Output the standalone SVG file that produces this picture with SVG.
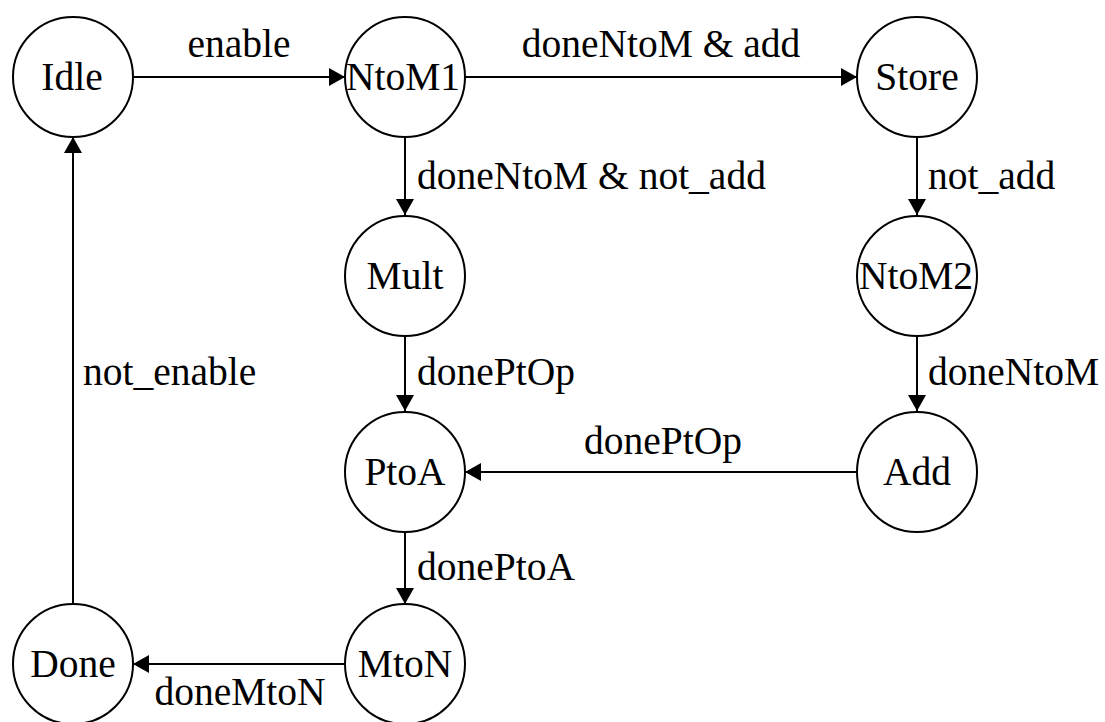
<svg xmlns="http://www.w3.org/2000/svg" width="1105" height="722" viewBox="0 0 1105 722">
<style>
.node circle{fill:#fff;stroke:#000;stroke-width:2}
.lbl{font-family:'Liberation Serif','Times New Roman','DejaVu Serif',serif;font-size:39.5px;fill:#000}
.c{text-anchor:middle}
.edge{stroke:#000;stroke-width:2;fill:none;marker-end:url(#arr)}
</style>
<defs>
<marker id="arr" markerUnits="userSpaceOnUse" markerWidth="16" markerHeight="18" refX="16" refY="9" orient="auto">
<path d="M0,0 L16,9 L0,18 z" fill="#000"/>
</marker>
</defs>
<rect width="1105" height="722" fill="#fff"/>
<g id="connectors">
<line class="edge" x1="134" y1="77" x2="345" y2="77"/>
<text class="lbl c" x="239" y="57">enable</text>
<line class="edge" x1="465" y1="77" x2="857" y2="77"/>
<text class="lbl c" x="661" y="57">doneNtoM &amp; add</text>
<line class="edge" x1="405" y1="137" x2="405" y2="215"/>
<text class="lbl" x="417" y="189">doneNtoM &amp; not_add</text>
<line class="edge" x1="917" y1="137" x2="917" y2="215"/>
<text class="lbl" x="928" y="189">not_add</text>
<line class="edge" x1="405" y1="337" x2="405" y2="411"/>
<text class="lbl" x="417" y="385">donePtOp</text>
<line class="edge" x1="917" y1="337" x2="917" y2="411"/>
<text class="lbl" x="928" y="385">doneNtoM</text>
<line class="edge" x1="857" y1="472" x2="465" y2="472"/>
<text class="lbl c" x="663" y="454">donePtOp</text>
<line class="edge" x1="405" y1="532" x2="405" y2="604"/>
<text class="lbl" x="417" y="580">donePtoA</text>
<line class="edge" x1="345" y1="664" x2="133" y2="664"/>
<text class="lbl c" x="240" y="705">doneMtoN</text>
<line class="edge" x1="73" y1="604" x2="73" y2="137"/>
<text class="lbl" x="83" y="385">not_enable</text>
</g>
<g id="Idle" class="node"><circle cx="73" cy="77" r="60"/><text class="lbl c" x="72" y="90">Idle</text></g>
<g id="NtoM1" class="node"><circle cx="405" cy="77" r="60"/><text class="lbl c" x="403" y="90">NtoM1</text></g>
<g id="Store" class="node"><circle cx="917" cy="77" r="60"/><text class="lbl c" x="917" y="90">Store</text></g>
<g id="Mult" class="node"><circle cx="405" cy="276" r="60"/><text class="lbl c" x="405" y="289">Mult</text></g>
<g id="NtoM2" class="node"><circle cx="917" cy="276" r="60"/><text class="lbl c" x="916" y="289">NtoM2</text></g>
<g id="PtoA" class="node"><circle cx="405" cy="472" r="60"/><text class="lbl c" x="405" y="485">PtoA</text></g>
<g id="Add" class="node"><circle cx="917" cy="472" r="60"/><text class="lbl c" x="917" y="485">Add</text></g>
<g id="Done" class="node"><circle cx="73" cy="664" r="60"/><text class="lbl c" x="73" y="677">Done</text></g>
<g id="MtoN" class="node"><circle cx="405" cy="664" r="60"/><text class="lbl c" x="405" y="677">MtoN</text></g>
</svg>
